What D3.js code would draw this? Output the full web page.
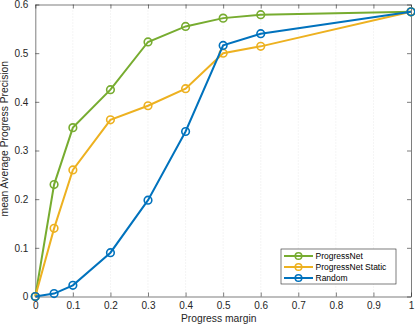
<!DOCTYPE html>
<html>
<head>
<meta charset="utf-8">
<script src="https://cdn.jsdelivr.net/npm/d3@7"></script>
<style>
  body { margin: 0; background: #fff; }
  text { font-family: "Liberation Sans", Arial, sans-serif; }
</style>
</head>
<body>
<div id="chart"></div>
<script>
var margins = [0, 0.05, 0.1, 0.2, 0.3, 0.4, 0.5, 0.6, 1];
var progressNet = [0, 0.23, 0.347, 0.425, 0.523, 0.555, 0.572, 0.579, 0.585];
var progressNetStatic = [0, 0.14, 0.26, 0.363, 0.392, 0.427, 0.5, 0.514, 0.585];
var random = [0, 0.006, 0.023, 0.09, 0.198, 0.339, 0.516, 0.54, 0.585];
var seriesNames = ["ProgressNet", "ProgressNet Static", "Random"];
var xTicks = [0, 0.1, 0.2, 0.3, 0.4, 0.5, 0.6, 0.7, 0.8, 0.9, 1];
var yTicks = [0, 0.1, 0.2, 0.3, 0.4, 0.5, 0.6];

var colors = ["#77AC30", "#EDB120", "#0072BD"];

var margin = {top: 4.5, right: 4, bottom: 29.5, left: 35.3},
    W = 415, H = 326,
    width = W - margin.left - margin.right,
    height = H - margin.top - margin.bottom;

var x = d3.scaleLinear().domain([0, 1]).range([0, width]);
var y = d3.scaleLinear().domain([0, 0.6]).range([height, 0]);

var svg = d3.select("#chart").append("svg")
    .attr("width", W)
    .attr("height", H)
  .append("g")
    .attr("transform", "translate(" + margin.left + "," + margin.top + ")");

// vertical grid
svg.selectAll(".grid")
    .data(xTicks.slice(1, -1))
  .enter().append("line")
    .attr("x1", function(d) { return x(d); })
    .attr("x2", function(d) { return x(d); })
    .attr("y1", 0)
    .attr("y2", height)
    .attr("stroke", "#dcdcdc")
    .attr("stroke-width", 0.6)
    .attr("stroke-dasharray", "1,2");

function styleAxis(g) {
  g.select(".domain").attr("stroke", "#262626").attr("stroke-width", 0.6);
  g.selectAll(".tick line").attr("stroke", "#262626").attr("stroke-width", 0.6);
  g.selectAll(".tick text").attr("fill", "#262626").style("font-size", "10px");
}

var fmt = function(d) { return d === 0 ? "0" : d3.format("")(d); };

svg.append("g")
    .attr("transform", "translate(0," + height + ")")
    .call(d3.axisBottom(x).tickValues(xTicks).tickFormat(fmt).tickSizeInner(-4).tickSizeOuter(0).tickPadding(5))
    .call(styleAxis);

svg.append("g")
    .call(d3.axisTop(x).tickValues(xTicks).tickFormat("").tickSizeInner(-4).tickSizeOuter(0))
    .call(styleAxis);

svg.append("g")
    .call(d3.axisLeft(y).tickValues(yTicks).tickFormat(fmt).tickSizeInner(-4).tickSizeOuter(0).tickPadding(7))
    .call(styleAxis);

svg.append("g")
    .attr("transform", "translate(" + width + ",0)")
    .call(d3.axisRight(y).tickValues(yTicks).tickFormat("").tickSizeInner(-4).tickSizeOuter(0))
    .call(styleAxis);

var allSeries = [progressNet, progressNetStatic, random];

var line = d3.line()
    .x(function(d, i) { return x(margins[i]); })
    .y(function(d) { return y(d); });

allSeries.forEach(function(vals, s) {
  svg.append("path")
      .datum(vals)
      .attr("fill", "none")
      .attr("stroke", colors[s])
      .attr("stroke-width", 2)
      .attr("d", line);

  svg.selectAll(".pt" + s)
      .data(vals)
    .enter().append("circle")
      .attr("cx", function(d, i) { return x(margins[i]); })
      .attr("cy", function(d) { return y(d); })
      .attr("r", 3.8)
      .attr("fill", "none")
      .attr("stroke", colors[s])
      .attr("stroke-width", 1.6);
});

// axis labels
svg.append("text")
    .attr("x", 183.4)
    .attr("y", height + 25.5)
    .attr("text-anchor", "middle")
    .attr("fill", "#262626")
    .style("font-size", "10.3px")
    .text("Progress margin");

svg.append("text")
    .attr("transform", "rotate(-90)")
    .attr("x", -134.2)
    .attr("y", -27.4)
    .attr("text-anchor", "middle")
    .attr("fill", "#262626")
    .style("font-size", "10.3px")
    .text("mean Average Progress Precision");

// legend
var lg = svg.append("g")
    .attr("transform", "translate(" + (281 - margin.left) + "," + (249 - margin.top) + ")");

lg.append("rect")
    .attr("width", 115)
    .attr("height", 35)
    .attr("fill", "#fff")
    .attr("stroke", "#262626")
    .attr("stroke-width", 0.6);

seriesNames.forEach(function(name, i) {
  var row = lg.append("g").attr("transform", "translate(0," + (7 + i * 11) + ")");
  row.append("line")
      .attr("x1", 3).attr("x2", 32)
      .attr("stroke", colors[i]).attr("stroke-width", 2);
  row.append("circle")
      .attr("cx", 17.5).attr("r", 3.3)
      .attr("fill", "none").attr("stroke", colors[i]).attr("stroke-width", 1.5);
  row.append("text")
      .attr("x", 34.5).attr("dy", "0.35em")
      .attr("fill", "#000")
      .style("font-size", "8.5px")
      .text(name);
});
</script>
</body>
</html>
